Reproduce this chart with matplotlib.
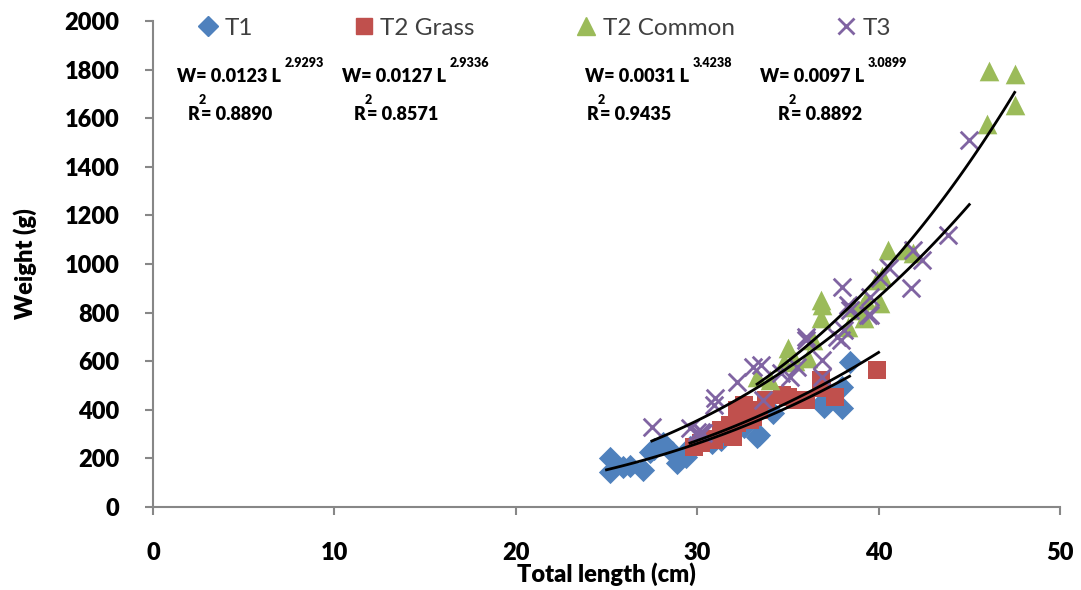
import numpy as np
import matplotlib.pyplot as plt
from matplotlib.lines import Line2D

# ---- data ----
t1_len = [25.2, 25.2, 25.9, 26.3, 27.0, 27.4, 27.6, 28.1, 28.6, 28.9, 29.4, 29.6,
          30.2, 30.8, 31.3, 32.1, 32.6, 33.3, 33.4, 34.2, 36.9, 37.0, 38.0, 38.0, 38.4]
t1_wt = [202, 144, 165, 170, 152, 226, 240, 263, 226, 181, 206, 247,
         276, 265, 276, 317, 330, 288, 296, 387, 430, 412, 494, 407, 597]

t2g_len = [29.8, 30.2, 30.6, 30.9, 31.3, 31.6, 31.8, 32.0, 32.2, 32.2, 32.6, 32.9,
           33.1, 33.4, 33.8, 34.7, 35.0, 35.4, 36.0, 36.8, 36.9, 37.6, 39.9]
t2g_wt = [247, 262, 280, 276, 317, 300, 337, 288, 346, 399, 420, 358,
          370, 399, 440, 461, 453, 440, 440, 523, 490, 453, 564]

t2c_len = [33.3, 34.0, 34.8, 35.0, 35.4, 36.1, 36.4, 36.8, 36.8, 36.9, 38.3, 38.6,
           38.9, 39.1, 39.2, 39.3, 39.9, 40.1, 40.2, 40.5, 41.5, 41.9, 46.0, 46.1,
           47.5, 47.5]
t2c_wt = [535, 523, 597, 654, 600, 613, 687, 778, 852, 831, 741, 823,
          811, 823, 778, 852, 934, 840, 950, 1058, 1058, 1045, 1576, 1794,
          1782, 1654]

t3_len = [27.5, 29.6, 30.0, 30.2, 30.3, 30.9, 31.0, 32.2, 33.1, 33.5, 33.6, 34.6,
          35.1, 35.5, 36.0, 36.0, 36.9, 36.9, 37.7, 37.9, 38.0, 38.1, 38.3, 38.4,
          39.4, 39.5, 39.5, 40.1, 40.6, 41.8, 41.9, 42.4, 43.8, 45.0]
t3_wt = [329, 325, 309, 309, 305, 420, 449, 514, 576, 584, 440, 551,
         535, 576, 687, 700, 605, 535, 700, 687, 905, 728, 831, 811,
         790, 864, 790, 942, 983, 901, 1058, 1016, 1119, 1510]

# power fits W = a L^b
fits = [
    (0.0123, 2.9293, 25.0, 38.4, "0.8890"),
    (0.0127, 2.9336, 29.6, 40.0, "0.8571"),
    (0.0031, 3.4238, 33.3, 47.5, "0.9435"),
    (0.0097, 3.0899, 27.5, 45.0, "0.8892"),
]

FONT = "Lato"
W, H = 1081, 590
fig = plt.figure(figsize=(W / 100, H / 100), dpi=100)
ax = fig.add_axes([153 / W, 1 - 507 / H, (1060 - 153) / W, (507 - 21) / H])

c_blue, c_red, c_green, c_purple = "#4F81BD", "#C0504D", "#9BBB59", "#8064A2"

ax.scatter(t1_len, t1_wt, marker="D", s=140, color=c_blue, lw=0, zorder=2)
ax.scatter(t2g_len, t2g_wt, marker="s", s=160, color=c_red, lw=0, zorder=3)
ax.scatter(t2c_len, t2c_wt, marker="^", s=200, color=c_green, lw=0, zorder=4)
ax.scatter(t3_len, t3_wt, marker="x", s=160, color=c_purple, lw=2, zorder=5)

for a, b, lo, hi, r2 in fits:
    xs = np.linspace(lo, hi, 100)
    ax.plot(xs, a * xs ** b, color="black", lw=2, zorder=6)

ax.set_xlim(0, 50)
ax.set_ylim(0, 2000)
ax.set_xticks(range(0, 51, 10))
ax.set_yticks(range(0, 2001, 200))
for s in ["top", "right"]:
    ax.spines[s].set_visible(False)
for s in ["left", "bottom"]:
    ax.spines[s].set_color("#878787")
    ax.spines[s].set_linewidth(1.5)
ax.tick_params(axis="both", direction="out", length=6, width=1.5, color="#878787")
ax.tick_params(axis="y", pad=18)
ax.tick_params(axis="x", pad=19)
for lab in ax.get_xticklabels() + ax.get_yticklabels():
    lab.set_fontfamily(FONT)
    lab.set_fontweight("heavy")
    lab.set_fontsize(17)

ax.set_xlabel("Total length (cm)", fontfamily=FONT, fontweight="heavy", fontsize=17, labelpad=-1)
ax.set_ylabel("Weight (g)", fontfamily=FONT, fontweight="heavy", fontsize=17, labelpad=20)

# legend
handles = [
    Line2D([], [], ls="none", marker="D", ms=10, color=c_blue),
    Line2D([], [], ls="none", marker="s", ms=12, color=c_red),
    Line2D([], [], ls="none", marker="^", ms=13, color=c_green),
    Line2D([], [], ls="none", marker="x", ms=12, mew=2, color=c_purple),
]
leg = fig.legend(handles, ["T1", "T2 Grass", "T2 Common", "T3"], ncol=4,
                 loc="center left", bbox_to_anchor=(177 / W, 1 - 28 / H),
                 frameon=False, handlelength=0.75, handletextpad=0.3,
                 columnspacing=4.2, prop={"family": FONT, "size": 17.5})
for t in leg.get_texts():
    t.set_color("#404040")

# equation labels
def px(x, y):
    return x / W, 1 - y / H

eq_pos = [(177, 188), (342, 354), (585, 587), (760, 778)]
for (a, b, lo, hi, r2), (xw, xr) in zip(fits, eq_pos):
    kw = dict(fontfamily=FONT, fontweight="heavy", color="black", va="center", ha="left")
    fig.text(*px(xw, 77), "W= %.4f L" % a, fontsize=13, **kw)
    fig.text(*px(xw + 108, 63), "%.4f" % b, fontsize=9, **kw)
    fig.text(*px(xr, 114), "R", fontsize=13, **kw)
    fig.text(*px(xr + 11, 100), "2", fontsize=9, **kw)
    fig.text(*px(xr + 13, 114), "= " + r2, fontsize=13, **kw)

fig.savefig("out.png", dpi=100)
